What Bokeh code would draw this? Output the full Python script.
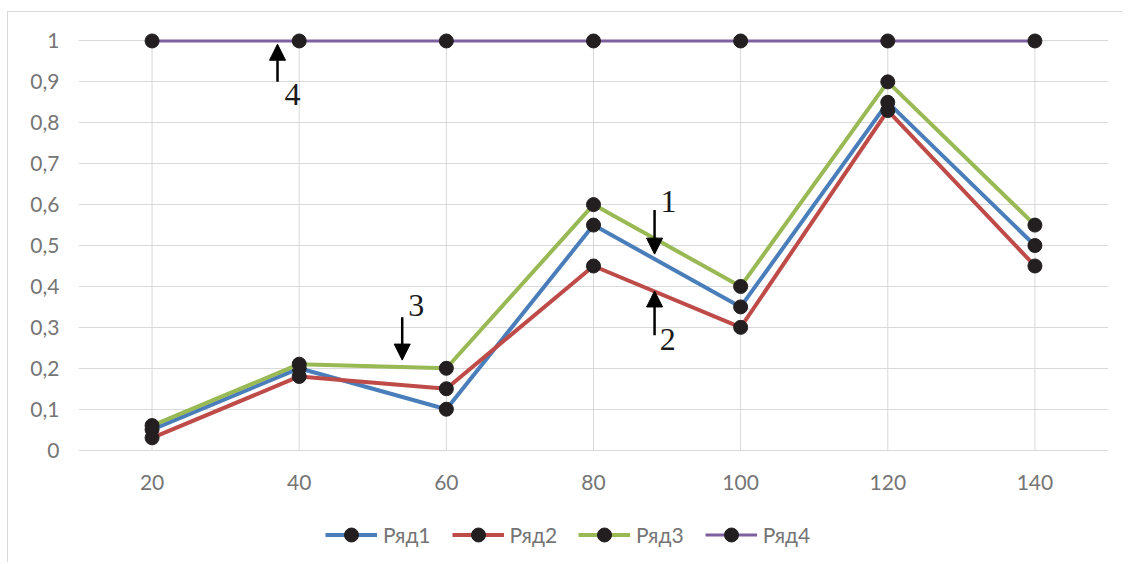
from bokeh.plotting import figure
from bokeh.models import (FixedTicker, CustomJSTickFormatter, Legend, LegendItem,
                          Arrow, NormalHead, Label, Range1d)
from bokeh.core.properties import value
from bokeh.embed import file_html
from bokeh.resources import INLINE

# ---- data ----
categories = [20, 40, 60, 80, 100, 120, 140]
x_tick_labels = ["20", "40", "60", "80", "100", "120", "140"]
ryad1 = [0.05, 0.20, 0.10, 0.55, 0.35, 0.85, 0.50]
ryad2 = [0.03, 0.18, 0.15, 0.45, 0.30, 0.83, 0.45]
ryad3 = [0.06, 0.21, 0.20, 0.60, 0.40, 0.90, 0.55]
ryad4 = [1.0, 1.0, 1.0, 1.0, 1.0, 1.0, 1.0]
series_names = ["Ряд1", "Ряд2", "Ряд3", "Ряд4"]
y_ticks = [0, 0.1, 0.2, 0.3, 0.4, 0.5, 0.6, 0.7, 0.8, 0.9, 1.0]
y_tick_labels = ["0", "0,1", "0,2", "0,3", "0,4", "0,5", "0,6", "0,7", "0,8", "0,9", "1"]

# annotation arrows: label, label x, label y (baseline), arrow x, arrow start y, arrow end y
ann_labels = ["4", "1", "2", "3"]
ann_label_x = [39.1, 90.2, 90.1, 55.9]
ann_label_y = [0.870, 0.608, 0.271, 0.354]
ann_arrow_x = [37.05, 88.3, 88.3, 54.0]
ann_arrow_y0 = [0.900, 0.587, 0.281, 0.325]
ann_arrow_y1 = [0.992, 0.479, 0.389, 0.220]

colors = ["#4a7ebb", "#be4b48", "#98b954", "#7d60a0"]
widths = [4, 4, 4, 3]
marker_color = "#231f20"
grid_color = "#d9d9d9"
text_color = "#757575"
font = "Lato"

p = figure(width=1115, height=551, output_backend="svg", toolbar_location=None,
           x_range=Range1d(10, 150), y_range=Range1d(-0.26, 1.05),
           min_border_left=70, min_border_right=15, min_border_top=8, min_border_bottom=7)
p.styles = {"border-left": "1px solid #d9d9d9", "border-top": "1px solid #d9d9d9",
            "margin-top": "11px", "margin-left": "7px"}
p.outline_line_color = None
p.background_fill_color = "white"
p.border_fill_color = "white"

# y axis
p.yaxis.ticker = FixedTicker(ticks=y_ticks)
p.yaxis.formatter = CustomJSTickFormatter(args=dict(tvals=y_ticks, tlabels=y_tick_labels), code="""
for (let i = 0; i < tvals.length; i++) { if (Math.abs(tvals[i] - tick) < 1e-6) return tlabels[i]; }
return String(tick);
""")
p.yaxis.major_tick_line_color = None
p.yaxis.minor_tick_line_color = None
p.yaxis.major_label_text_font = font
p.yaxis.major_label_text_font_size = "21px"
p.yaxis.major_label_text_color = text_color
p.yaxis.axis_line_color = None
p.yaxis.major_label_standoff = 13

# x axis: category labels drawn under the zero line
p.xaxis.visible = False
p.text(x=categories, y=[y_ticks[0]] * len(categories), text=x_tick_labels,
       y_offset=32, text_align="center", text_baseline="middle",
       text_font=value(font), text_font_size=value("21px"), text_color=text_color)

p.xgrid.visible = False
p.ygrid.grid_line_color = grid_color
p.ygrid.grid_line_width = 1

# vertical gridlines only between 0 and 1
p.segment(x0=categories, y0=[y_ticks[0]] * len(categories), x1=categories,
          y1=[y_ticks[-1]] * len(categories), line_color=grid_color, line_width=1)

items = []
for name, ys, c, w in zip(series_names, [ryad1, ryad2, ryad3, ryad4], colors, widths):
    lr = p.line(categories, ys, line_color=c, line_width=w)
    sr = p.scatter(categories, ys, size=14, marker="circle", fill_color=marker_color,
                   line_color=marker_color)
    items.append(LegendItem(label=name, renderers=[lr, sr]))

legend = Legend(items=items, orientation="horizontal", location=(247, 4),
                glyph_width=52, glyph_height=35, label_standoff=6, spacing=21,
                padding=0, margin=0, border_line_color=None, background_fill_alpha=0,
                label_text_font=font, label_text_font_size="21px",
                label_text_color=text_color)
p.add_layout(legend)

for t, lx, ly, ax_, y0, y1 in zip(ann_labels, ann_label_x, ann_label_y, ann_arrow_x,
                                 ann_arrow_y0, ann_arrow_y1):
    p.add_layout(Arrow(x_start=ax_, y_start=y0, x_end=ax_, y_end=y1,
                       line_color="black", line_width=2.5,
                       end=NormalHead(size=16, fill_color="black", line_color="black")))
    p.add_layout(Label(x=lx, y=ly, text=t, text_font="Liberation Serif",
                       text_font_size="32px", text_align="center",
                       text_baseline="alphabetic", text_color="#1a1a1a"))

open("out.html", "w").write(file_html(p, INLINE))
